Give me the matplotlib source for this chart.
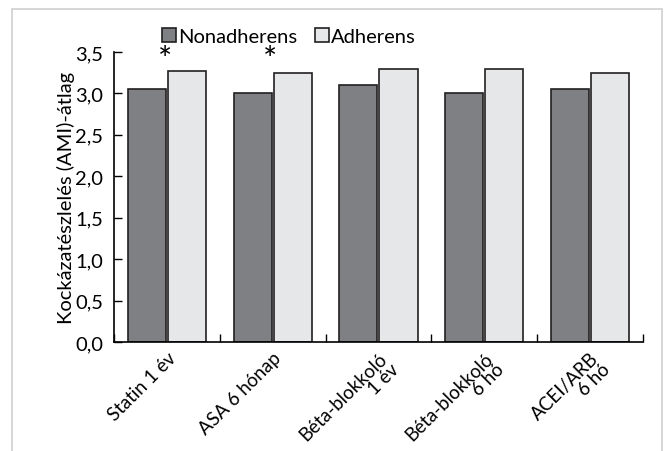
import numpy as np
import matplotlib.pyplot as plt
from matplotlib.patches import Rectangle

# datos
kategoriak = ["Statin 1 év", "ASA 6 hónap", "Béta-blokkoló\n1 év",
              "Béta-blokkoló\n6 hó", "ACEI/ARB\n6 hó"]
nonadherens = [3.05, 3.00, 3.10, 3.00, 3.05]
adherens = [3.27, 3.25, 3.30, 3.30, 3.25]
csillag = [True, True, False, False, False]
y_ticks = [0.0, 0.5, 1.0, 1.5, 2.0, 2.5, 3.0, 3.5]

plt.rcParams['font.family'] = ['Lato', 'DejaVu Sans']

fig = plt.figure(figsize=(6.64, 4.52), dpi=100)
ax = fig.add_axes([0.1717, 0.2412, 0.7963, 0.6415])

# keret a teljes ábra körül
fig.patches.append(Rectangle((12/664, -0.1), 650/664, 1.1 - 10/452,
                             transform=fig.transFigure, fill=False,
                             edgecolor='#d0d0d0', linewidth=1.2))

x = np.arange(len(kategoriak))
w = 0.36
sotet = '#7f8083'
vilagos = '#e6e7e8'

ax.bar(x - w/2 - 0.01, nonadherens, w, color=sotet, edgecolor='#231f20',
       linewidth=1.2, label='Nonadherens')
ax.bar(x + w/2 + 0.01, adherens, w, color=vilagos, edgecolor='#231f20',
       linewidth=1.2, label='Adherens')

for i, c in enumerate(csillag):
    if c:
        ax.text(x[i] - 0.02, 3.40, '*', ha='center', va='center', fontsize=24)

ax.set_xlim(-0.5, len(kategoriak) - 0.5)
ax.set_ylim(0, 3.5)
ax.set_yticks(y_ticks)
ax.set_yticklabels([f"{v:.1f}".replace('.', ',') for v in y_ticks], fontsize=14.5)
ax.tick_params(axis='y', direction='in', length=6, width=1, pad=8)

# x tengely: kis jelek a csoportok között
ax.set_xticks(x)
ax.set_xticklabels(kategoriak, rotation=45, ha='right', rotation_mode='anchor',
                   multialignment='right', fontsize=13.5, linespacing=0.95)
ax.tick_params(axis='x', length=0, pad=5)
ax.set_xticks(np.arange(len(kategoriak) + 1) - 0.5, minor=True)
ax.tick_params(axis='x', which='minor', direction='in', length=6, width=1)

for s in ['top', 'right']:
    ax.spines[s].set_visible(False)
ax.spines['left'].set_linewidth(1.2)
ax.spines['bottom'].set_linewidth(1.2)

ax.set_ylabel('Kockázatészlelés (AMI)-átlag', fontsize=14.5, labelpad=0)

fig.legend(loc='upper center', bbox_to_anchor=(0.435, 0.972), ncol=2,
           frameon=False, fontsize=14.5, handlelength=0.7, handleheight=0.7,
           handletextpad=0.1, columnspacing=0.9, borderpad=0.3)

fig.savefig('out.png', dpi=100)
